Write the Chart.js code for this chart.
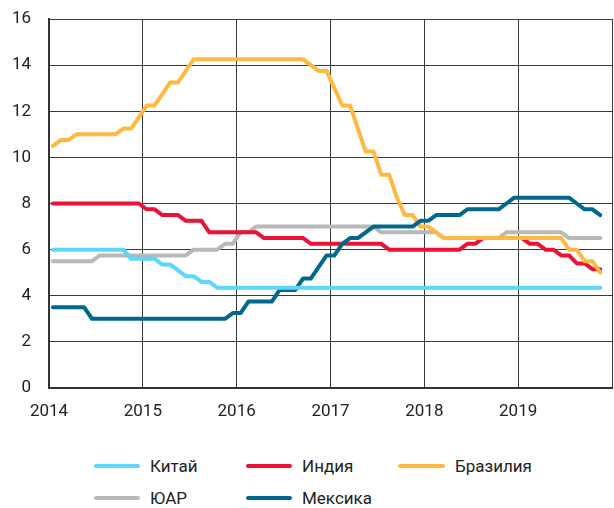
<!DOCTYPE html>
<html>
<head>
<meta charset="utf-8">
<script src="https://cdn.jsdelivr.net/npm/chart.js@4"></script>
<style>
  body { margin: 0; background: #fff; font-family: Roboto, sans-serif; }
  #wrap { position: relative; width: 614px; height: 508px; }
  #chart { position: absolute; left: 0; top: 0; }
  .legend-item { position: absolute; display: flex; align-items: center; font-size: 17px; color: #222; }
  .legend-item span.swatch { display: inline-block; height: 4px; border-radius: 2px; margin-right: 10px; }
</style>
</head>
<body>
<div id="wrap">
  <canvas id="chart" width="614" height="430"></canvas>
  <div id="legend"></div>
</div>
<script>
// Policy rates, %, monthly from Jan 2014 to Nov 2019

const yearLabels = ["2014", "2015", "2016", "2017", "2018", "2019"];

const china = [
    6, 6, 6, 6, 6, 6, 6, 6, 6, 6,
    5.6, 5.6, 5.6, 5.6, 5.35, 5.35, 5.1, 4.85, 4.85, 4.6,
    4.6, 4.35, 4.35, 4.35, 4.35, 4.35, 4.35, 4.35, 4.35, 4.35,
    4.35, 4.35, 4.35, 4.35, 4.35, 4.35, 4.35, 4.35, 4.35, 4.35,
    4.35, 4.35, 4.35, 4.35, 4.35, 4.35, 4.35, 4.35, 4.35, 4.35,
    4.35, 4.35, 4.35, 4.35, 4.35, 4.35, 4.35, 4.35, 4.35, 4.35,
    4.35, 4.35, 4.35, 4.35, 4.35, 4.35, 4.35, 4.35, 4.35, 4.35,
    4.35
];

const india = [
    8, 8, 8, 8, 8, 8, 8, 8, 8, 8,
    8, 8, 7.75, 7.75, 7.5, 7.5, 7.5, 7.25, 7.25, 7.25,
    6.75, 6.75, 6.75, 6.75, 6.75, 6.75, 6.75, 6.5, 6.5, 6.5,
    6.5, 6.5, 6.5, 6.25, 6.25, 6.25, 6.25, 6.25, 6.25, 6.25,
    6.25, 6.25, 6.25, 6, 6, 6, 6, 6, 6, 6,
    6, 6, 6, 6.25, 6.25, 6.5, 6.5, 6.5, 6.5, 6.5,
    6.5, 6.25, 6.25, 6, 6, 5.75, 5.75, 5.4, 5.4, 5.15,
    5.15
];

const brazil = [
    10.5, 10.75, 10.75, 11, 11, 11, 11, 11, 11, 11.25,
    11.25, 11.75, 12.25, 12.25, 12.75, 13.25, 13.25, 13.75, 14.25, 14.25,
    14.25, 14.25, 14.25, 14.25, 14.25, 14.25, 14.25, 14.25, 14.25, 14.25,
    14.25, 14.25, 14.25, 14, 13.75, 13.75, 13, 12.25, 12.25, 11.25,
    10.25, 10.25, 9.25, 9.25, 8.25, 7.5, 7.5, 7, 7, 6.75,
    6.5, 6.5, 6.5, 6.5, 6.5, 6.5, 6.5, 6.5, 6.5, 6.5,
    6.5, 6.5, 6.5, 6.5, 6.5, 6.5, 6, 6, 5.5, 5.5,
    5
];

const southAfrica = [
    5.5, 5.5, 5.5, 5.5, 5.5, 5.5, 5.75, 5.75, 5.75, 5.75,
    5.75, 5.75, 5.75, 5.75, 5.75, 5.75, 5.75, 5.75, 6, 6,
    6, 6, 6.25, 6.25, 6.75, 6.75, 7, 7, 7, 7,
    7, 7, 7, 7, 7, 7, 7, 7, 7, 7,
    7, 7, 6.75, 6.75, 6.75, 6.75, 6.75, 6.75, 6.75, 6.75,
    6.5, 6.5, 6.5, 6.5, 6.5, 6.5, 6.5, 6.5, 6.75, 6.75,
    6.75, 6.75, 6.75, 6.75, 6.75, 6.75, 6.5, 6.5, 6.5, 6.5,
    6.5
];

const mexico = [
    3.5, 3.5, 3.5, 3.5, 3.5, 3, 3, 3, 3, 3,
    3, 3, 3, 3, 3, 3, 3, 3, 3, 3,
    3, 3, 3, 3.25, 3.25, 3.75, 3.75, 3.75, 3.75, 4.25,
    4.25, 4.25, 4.75, 4.75, 5.25, 5.75, 5.75, 6.25, 6.5, 6.5,
    6.75, 7, 7, 7, 7, 7, 7, 7.25, 7.25, 7.5,
    7.5, 7.5, 7.5, 7.75, 7.75, 7.75, 7.75, 7.75, 8, 8.25,
    8.25, 8.25, 8.25, 8.25, 8.25, 8.25, 8.25, 8, 7.75, 7.75,
    7.5
];

// legend is laid out in a fixed grid, so each series carries its cell
const series = [
    { label: "Китай", data: china, color: "#5cd6fb", col: 0, row: 0, order: 0 },
    { label: "Индия", data: india, color: "#ea1336", col: 1, row: 0, order: 3 },
    { label: "Бразилия", data: brazil, color: "#ffb940", col: 2, row: 0, order: 2 },
    { label: "ЮАР", data: southAfrica, color: "#b9b9b9", col: 0, row: 1, order: 4 },
    { label: "Мексика", data: mexico, color: "#00688c", col: 1, row: 1, order: 1 },
];

// each value sits in the middle of its month
function toPoints(values) {
    return values.map((v, i) => ({ x: i + 0.5, y: v }));
}

const fontSpec = { family: "Roboto, sans-serif", size: 17 };
const gridColor = "#3a3a3a";

new Chart("chart", {
    type: "line",
    data: {
        datasets: series.map(s => ({
            label: s.label,
            data: toPoints(s.data),
            borderColor: s.color,
            borderWidth: 4,
            borderCapStyle: "round",
            borderJoinStyle: "round",
            pointRadius: 0,
            tension: 0,
            order: s.order,
        })),
    },
    options: {
        responsive: false,
        animation: false,
        layout: { padding: { top: 19, right: 2, left: 0, bottom: 0 } },
        plugins: {
            legend: { display: false },
            tooltip: { enabled: false },
        },
        scales: {
            x: {
                type: "linear",
                min: 0,
                max: 72,
                afterFit: scale => {
                    scale.height = 42;
                    scale.paddingLeft = 0;
                    scale.paddingRight = 0;
                },
                ticks: {
                    stepSize: 12,
                    autoSkip: false,
                    maxRotation: 0,
                    padding: 14,
                    color: "#222",
                    font: fontSpec,
                    callback: v => yearLabels[v / 12] || "",
                },
                grid: { color: gridColor, lineWidth: 1, drawTicks: false },
                border: { color: "#333", width: 2 },
            },
            y: {
                min: 0,
                max: 16,
                afterFit: scale => {
                    scale.width = 49;
                    scale.paddingTop = 0;
                    scale.paddingBottom = 0;
                },
                ticks: {
                    stepSize: 2,
                    padding: 18,
                    color: "#222",
                    font: fontSpec,
                },
                grid: { color: gridColor, lineWidth: 1, drawTicks: false },
                border: { color: "#333", width: 2 },
            },
        },
    },
});

// Legend below the plot
const colX = [[94, 46], [246, 46], [398, 47]];
const rowY = [466, 498];
const legend = document.getElementById("legend");
series.forEach(s => {
    const item = document.createElement("div");
    item.className = "legend-item";
    item.style.left = colX[s.col][0] + "px";
    item.style.top = (rowY[s.row] - 12) + "px";
    item.style.height = "24px";
    item.innerHTML = `<span class="swatch" style="width:${colX[s.col][1]}px;background:${s.color}"></span>${s.label}`;
    legend.appendChild(item);
});
</script>
</body>
</html>
